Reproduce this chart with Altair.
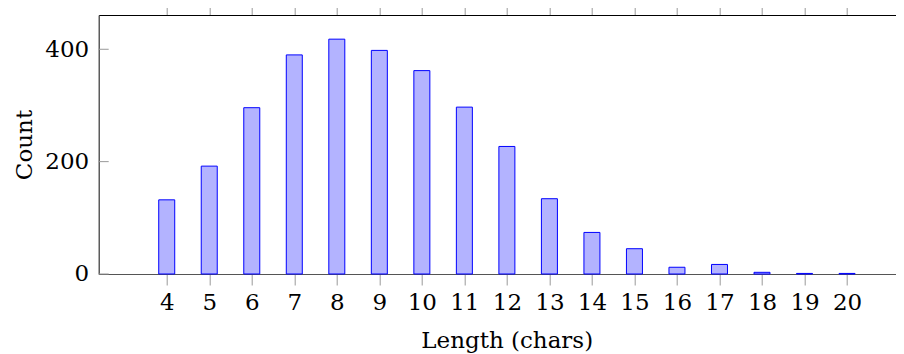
import altair as alt
import pandas as pd

lengths = list(range(4, 21))
counts = [132, 192, 296, 390, 418, 398, 362, 297, 227, 134, 74, 45, 12, 17, 3, 1, 1]
y_ticks = [0, 200, 400]

df = pd.DataFrame({"len": lengths, "count": counts})
ticks_df = pd.DataFrame({"count": y_ticks})

FONT = "DejaVu Serif"
FS = 23

xscale = alt.Scale(domain=[2.4, 21.144], nice=False, zero=False, padding=0)
yscale = alt.Scale(domain=[0, 461], nice=False, padding=0)

yaxis = alt.Axis(orient="left", values=y_ticks, ticks=False, grid=False,
                 domainColor="#333333", domainWidth=1.2,
                 labelFont=FONT, labelFontSize=FS, labelColor="#000000",
                 labelPadding=10,
                 title="Count", titleFont=FONT, titleFontSize=FS,
                 titleFontWeight="normal", titleColor="#000000", titlePadding=8)

bars = alt.Chart(df).mark_bar(size=16, fill="#b3b3ff", stroke="#0000ff", strokeWidth=1).encode(
    x=alt.X("len:Q", scale=xscale,
            axis=alt.Axis(orient="bottom", values=lengths, format="d", tickSize=11,
                          tickColor="#999999", domainColor="#555555", domainWidth=1.2,
                          labelFont=FONT, labelFontSize=FS, labelColor="#000000",
                          labelPadding=7, grid=False,
                          title="Length (chars)", titleFont=FONT, titleFontSize=FS,
                          titleFontWeight="normal", titleColor="#000000", titlePadding=15,
                          titleX=408)),
    y=alt.Y("count:Q", scale=yscale, axis=yaxis),
)

top = alt.Chart(df).mark_point(opacity=0).encode(
    x=alt.X("len:Q", scale=xscale,
            axis=alt.Axis(orient="top", values=lengths, labels=False, title=None, tickSize=11,
                          tickColor="#999999", domainColor="#000000", domainWidth=1.2, grid=False)),
    y=alt.Y("count:Q", scale=yscale, axis=yaxis),
)

yt = alt.Chart(ticks_df).mark_rule(color="#999999", strokeWidth=1).encode(
    y=alt.Y("count:Q", scale=yscale, axis=yaxis),
    x=alt.value(0),
    x2=alt.value(10),
)

chart = alt.layer(bars, top, yt).resolve_axis(x="independent").properties(
    width=797,
    height=259,
    autosize=alt.AutoSizeParams(type="none"),
    padding={"left": 90.7, "top": 7, "right": 0, "bottom": 80},
    background="white",
).configure_view(strokeWidth=0, strokeOpacity=0)

chart.save("out.html", embed_options={"renderer": "svg", "actions": False})
